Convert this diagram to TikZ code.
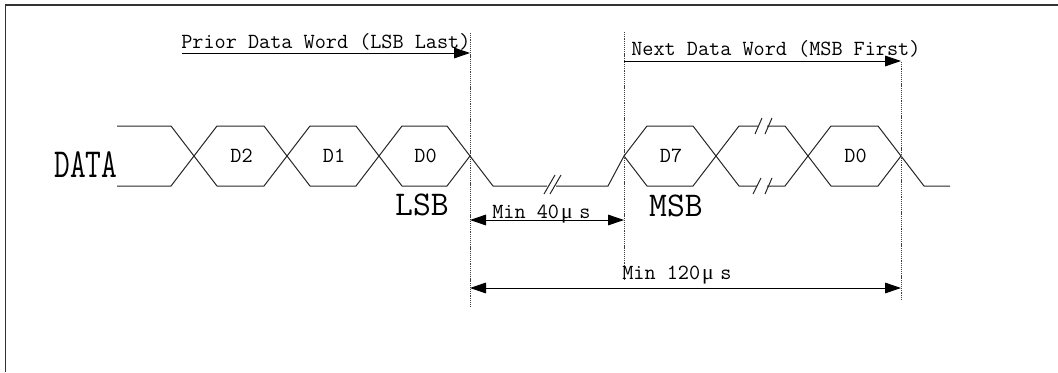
\documentclass[tikz,border=0pt]{standalone}
\usepackage{fontspec}
\newfontfamily\mufont{Liberation Serif}
\usetikzlibrary{arrows.meta}
\newcommand{\musec}{\hspace{1.5pt}{\mufont μ}\hspace{5pt}s}

\begin{document}
\begin{tikzpicture}[x=0.75pt,y=-0.75pt,
	wave/.style={line width=0.75pt, black!85},
	guide/.style={line width=0.55pt, black!75, dash pattern=on 0.9pt off 0.7pt},
	dim/.style={line width=0.7pt, -{Triangle[length=12pt,width=8pt]}},
	dimb/.style={line width=0.7pt, {Triangle[length=12pt,width=8pt]}-{Triangle[length=12pt,width=8pt]}},
	txt/.style={inner sep=0pt, font=\fontsize{16.2}{19}\ttfamily},
	big/.style={inner sep=0pt, font=\fontsize{26}{30}\ttfamily}]
	\useasboundingbox (0,0) rectangle (1058,372);
	% frame
	\draw[line width=1.1pt, black!80] (5.5,372) -- (5.5,5) -- (1058,5);
	% lead-in
	\draw[wave] (117,126) -- (171,126) -- (194,156);
	\draw[wave] (117,186) -- (171,186) -- (194,156);
	% data bits
	\foreach \a/\b/\d in {194/287/D2, 287/379/D1, 379/470/D0, 624/716/D7, 808/901/D0}{
		\draw[wave] (\a,156) -- (\a+23,126) -- (\b-23,126) -- (\b,156) -- (\b-23,186) -- (\a+23,186) -- cycle;
		\node[txt] (bit\a) at ({(\a+\b)/2+1},156) {\d};
	}
	% idle time between words
	\draw[wave] (470,156) -- (493,186) -- (547,186);
	\draw[wave] (556,186) -- (608,186) -- (624,156);
	\draw[wave] (544,194) -- (555,175) (550,194) -- (561,175);
	% skipped bits
	\draw[wave] (716,156) -- (739,126) -- (758,126);
	\draw[wave] (767,126) -- (785,126) -- (808,156);
	\draw[wave] (716,156) -- (739,186) -- (757,186);
	\draw[wave] (767,186) -- (785,186) -- (808,156);
	\draw[wave] (755,134) -- (762,118) (765,134) -- (772,118);
	\draw[wave] (753,194) -- (761,178) (765,194) -- (772,178);
	% lead-out
	\draw[wave] (901,156) -- (924,186) -- (950,186);
	% guides
	\coordinate (g1t) at (470,33);
	\coordinate (g1b) at (470,307);
	\coordinate (g2t) at (624,32);
	\coordinate (g2b) at (624,280);
	\coordinate (g3t) at (901,62);
	\coordinate (g3b) at (901,300);
	\draw[guide] (g1t) -- (g1b);
	\draw[guide] (g2t) -- (g2b);
	\draw[guide] (g3t) -- (g3b);
	% words
	\coordinate (pw) at (182,53);
	\draw[dim] (pw) -- (pw -| g1t);
	\node[txt, anchor=base west] (prior) at (181,48) {Prior Data Word (LSB Last)};
	\coordinate (nw) at (624,61);
	\draw[dim] (nw) -- (nw -| g3t);
	\node[txt, anchor=base west] (next) at (631,55) {Next Data Word (MSB First)};
	% timing
	\coordinate (m40) at (470,220);
	\draw[dimb] (m40) -- (m40 -| g2t);
	\node[txt, anchor=base west] (min40) at (492,218) {Min 40\musec};
	\coordinate (m120) at (470,288);
	\draw[dimb] (m120) -- (m120 -| g3t);
	\node[txt, anchor=base west] (min120) at (622,279) {Min 120\musec};
	% signal labels
	\node[big, font=\fontsize{31}{35}\ttfamily, anchor=base] (data) at (86,177) {\scalebox{0.74}[1]{DATA}};
	\node[big, anchor=base] (lsb) at (422,215) {LSB};
	\node[big, anchor=base] (msb) at (676,216) {MSB};
\end{tikzpicture}
\end{document}
